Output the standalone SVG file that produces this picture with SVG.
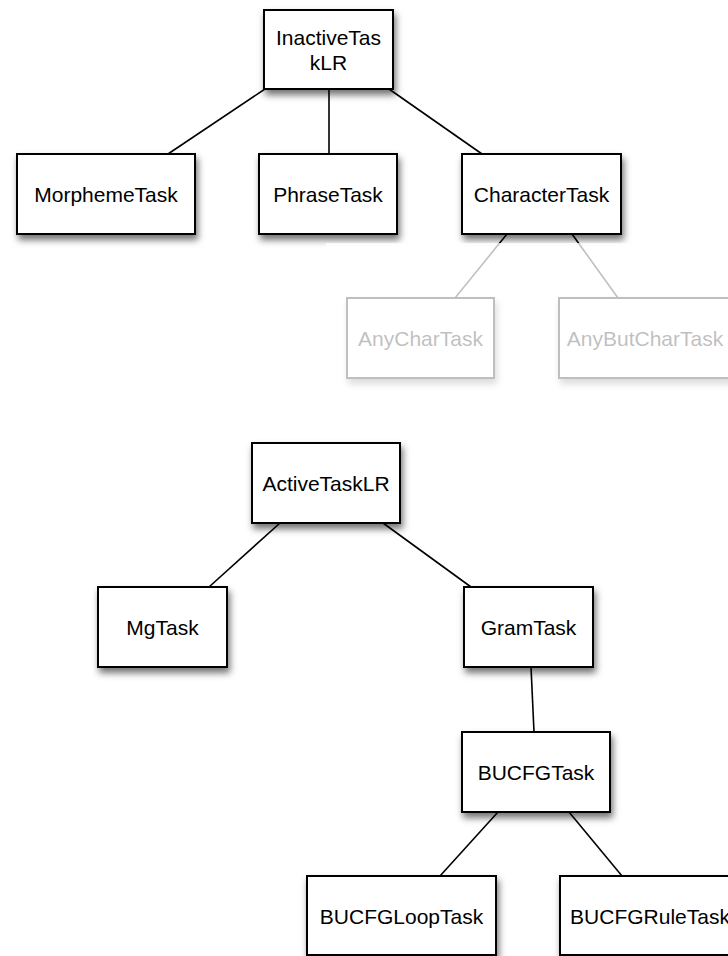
<svg xmlns="http://www.w3.org/2000/svg" width="728" height="956" viewBox="0 0 728 956">
<defs>
<filter id="sh" x="-20%" y="-20%" width="150%" height="160%">
<feDropShadow dx="2" dy="5" stdDeviation="3.5" flood-color="#000" flood-opacity="0.55"/>
</filter>
<style>
.box{fill:#fff;stroke:#000;stroke-width:2;filter:url(#sh)}
.lbl{font-family:"Liberation Sans",Arial,Helvetica,sans-serif;font-size:21px;fill:#000;text-anchor:middle}
.edge{stroke:#000;stroke-width:1.6;fill:none}
</style>
</defs>
<rect width="728" height="956" fill="#fff"/>
<g id="connectors">
<line class="edge" x1="265" y1="89" x2="168" y2="154"/>
<line class="edge" x1="329" y1="89" x2="329" y2="154"/>
<line class="edge" x1="389" y1="89" x2="482" y2="154"/>
<line class="edge" x1="507" y1="234" x2="455" y2="298"/>
<line class="edge" x1="572" y1="234" x2="618" y2="298"/>
<line class="edge" x1="280" y1="523" x2="209" y2="587"/>
<line class="edge" x1="383" y1="523" x2="471" y2="587"/>
<line class="edge" x1="531" y1="667" x2="534" y2="732"/>
<line class="edge" x1="498" y1="812" x2="440" y2="876"/>
<line class="edge" x1="569" y1="812" x2="622" y2="876"/>
</g>
<g id="InactiveTaskLR"><rect class="box" x="264" y="10" width="129" height="79"/><text class="lbl" x="328.5" y="45">InactiveTas</text><text class="lbl" x="328.5" y="70">kLR</text></g>
<g id="MorphemeTask"><rect class="box" x="17" y="154" width="178" height="80"/><text class="lbl" x="106" y="201.5">MorphemeTask</text></g>
<g id="PhraseTask"><rect class="box" x="259" y="154" width="138" height="80"/><text class="lbl" x="328" y="201.5">PhraseTask</text></g>
<g id="CharacterTask"><rect class="box" x="462" y="154" width="159" height="80"/><text class="lbl" x="541.5" y="201.5">CharacterTask</text></g>
<g id="AnyCharTask"><rect class="box" x="347" y="298" width="147" height="80"/><text class="lbl" x="420.5" y="345.5">AnyCharTask</text></g>
<g id="AnyButCharTask"><rect class="box" x="559" y="298" width="172" height="80"/><text class="lbl" x="645" y="345.5">AnyButCharTask</text></g>
<rect id="fade" x="326" y="243" width="402" height="180" fill="#fff" fill-opacity="0.75"/>
<g id="ActiveTaskLR"><rect class="box" x="252" y="443" width="148" height="80"/><text class="lbl" x="326" y="490.5">ActiveTaskLR</text></g>
<g id="MgTask"><rect class="box" x="98" y="587" width="129" height="80"/><text class="lbl" x="162.5" y="634.5">MgTask</text></g>
<g id="GramTask"><rect class="box" x="464" y="587" width="129" height="80"/><text class="lbl" x="528.5" y="634.5">GramTask</text></g>
<g id="BUCFGTask"><rect class="box" x="462" y="732" width="148" height="80"/><text class="lbl" x="536" y="779.5">BUCFGTask</text></g>
<g id="BUCFGLoopTask"><rect class="box" x="307" y="876" width="189" height="79"/><text class="lbl" x="401.5" y="923.5">BUCFGLoopTask</text></g>
<g id="BUCFGRuleTask"><rect class="box" x="560" y="876" width="180" height="79"/><text class="lbl" x="650" y="923.5">BUCFGRuleTask</text></g>
</svg>
